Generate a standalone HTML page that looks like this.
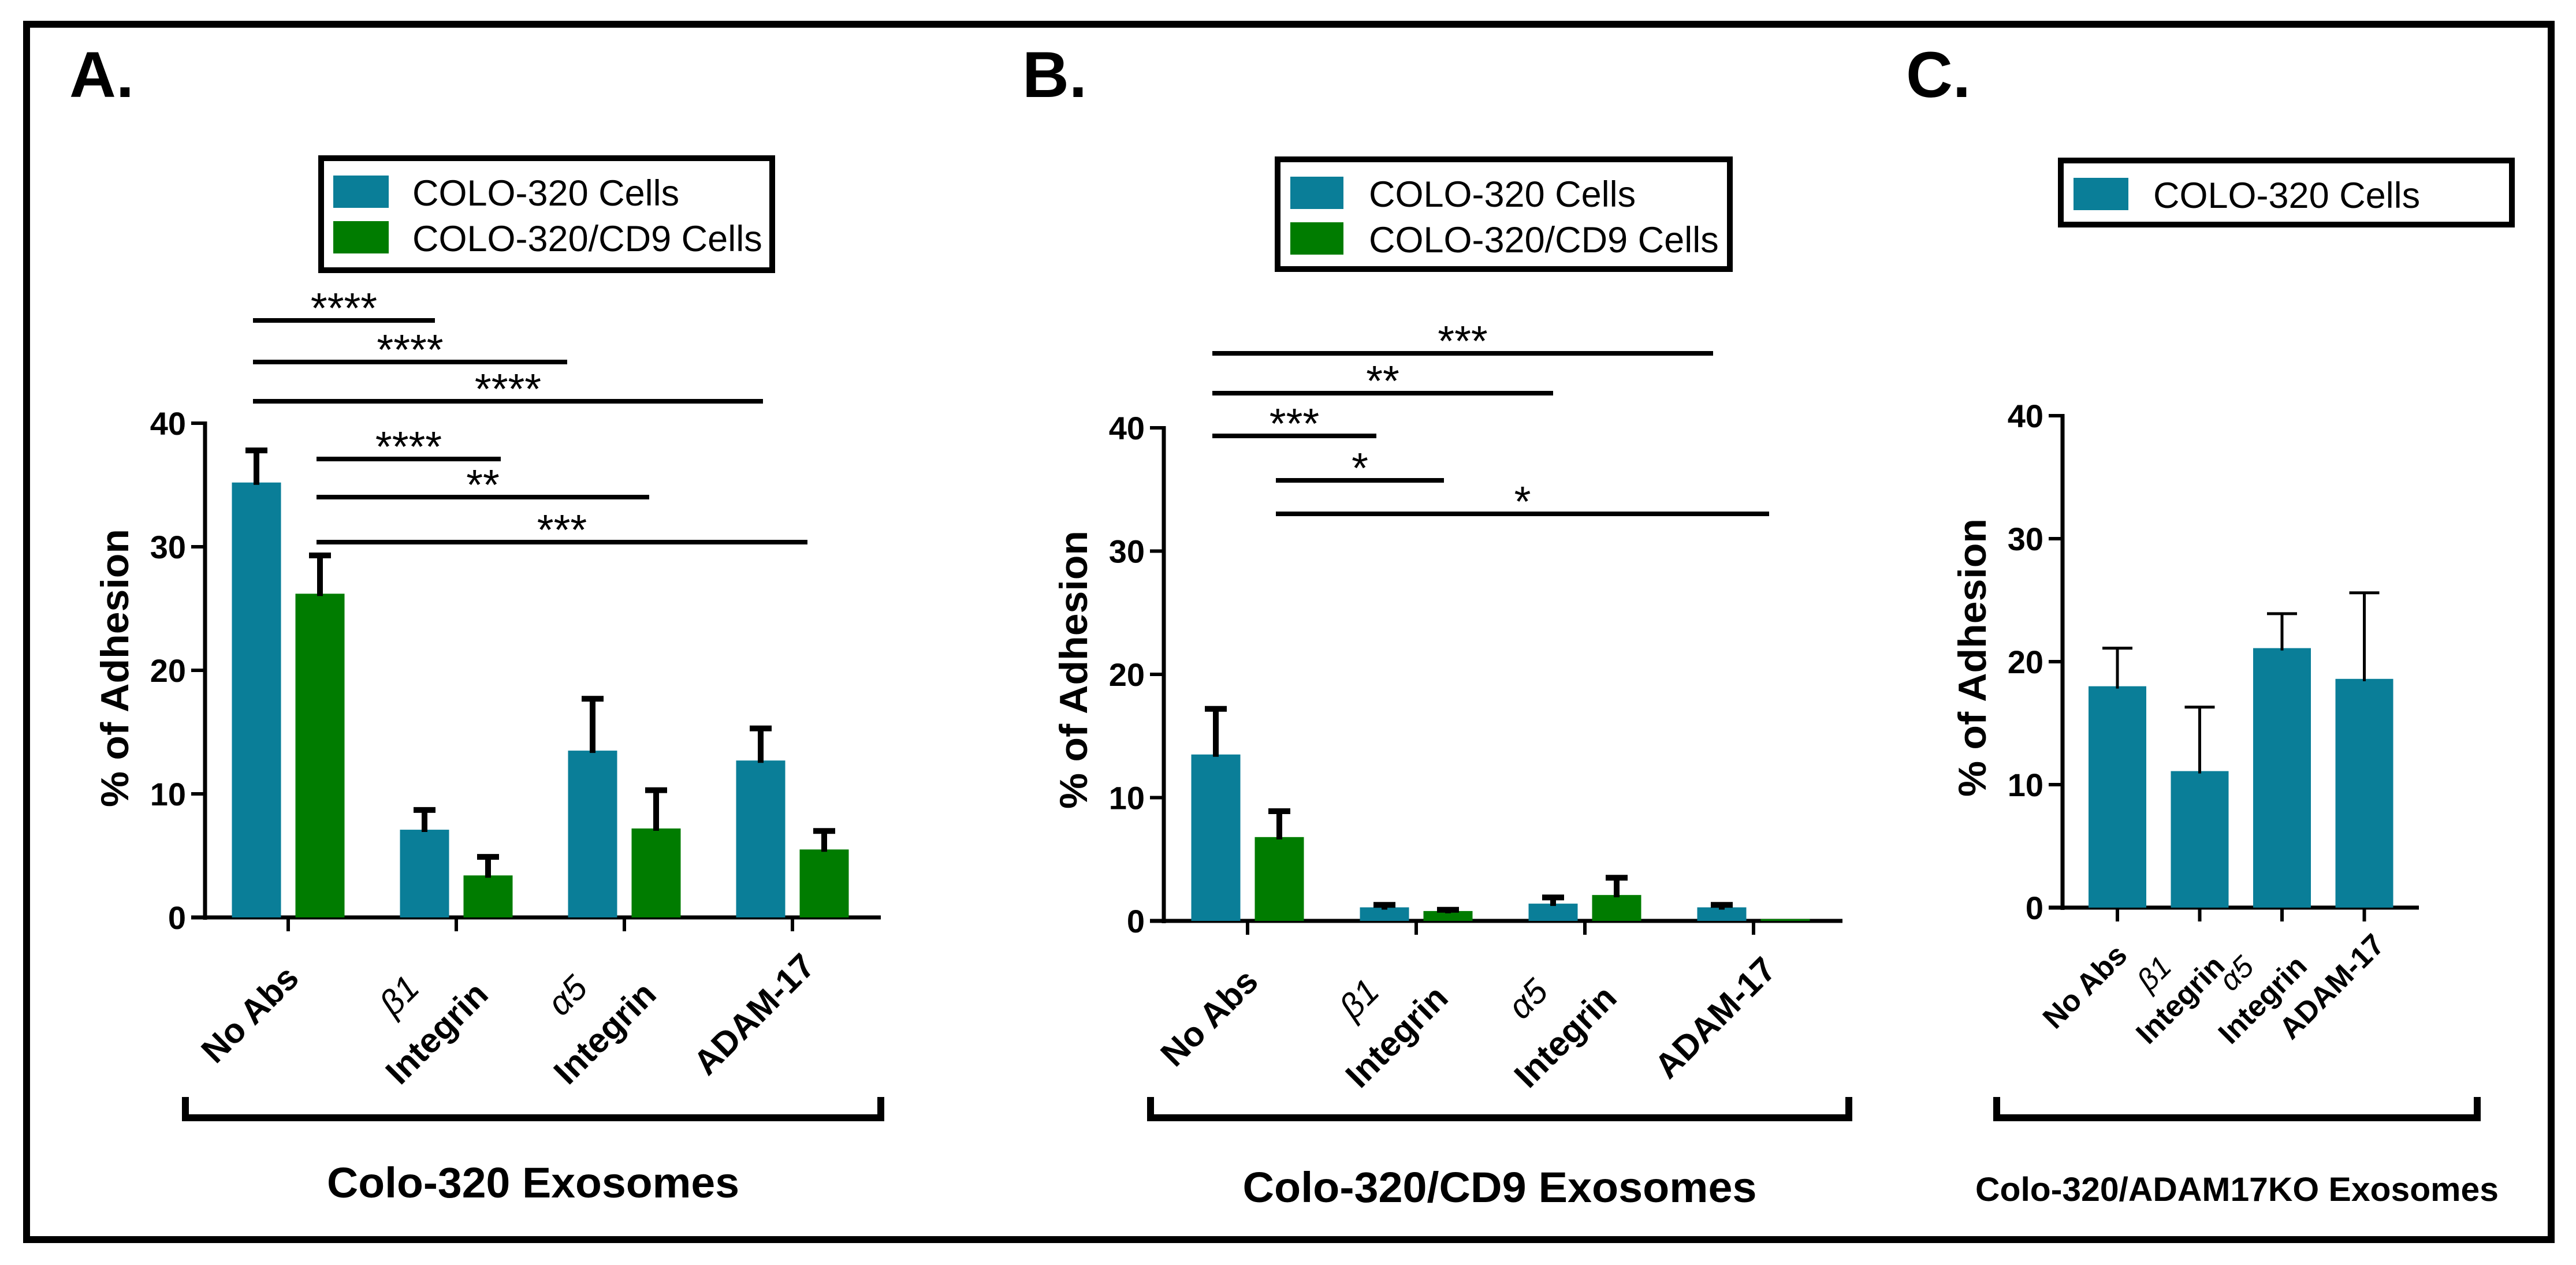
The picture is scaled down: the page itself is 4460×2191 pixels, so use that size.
<!DOCTYPE html>
<html><head><meta charset="utf-8"><style>
html,body{margin:0;padding:0;background:#fff;}
svg{display:block;}
text{font-family:"Liberation Sans",sans-serif;}
</style></head><body>
<svg id="fig" width="4460" height="2191" viewBox="0 0 4460 2191" xmlns="http://www.w3.org/2000/svg">
<rect x="0" y="0" width="4460" height="2191" fill="#fff"/>
<rect x="46" y="42" width="4371" height="2105" fill="none" stroke="#000" stroke-width="12"/>
<text x="120" y="168" font-size="112" font-weight="bold">A.</text>
<text x="1770" y="168" font-size="112" font-weight="bold">B.</text>
<text x="3300" y="168" font-size="112" font-weight="bold">C.</text>
<g id="root"></g>
</svg>
<script>
const NS="http://www.w3.org/2000/svg";
const TEAL="#0a7e98", GREEN="#007c00";
// ---- data ----
const catsAB=["No Abs","β1|Integrin","α5|Integrin","ADAM-17"];
const catsC=["No Abs","β1|Integrin","α5|Integrin","ADAM-17"];
const yTicks=[0,10,20,30,40];
const aTeal=[35.2,7.1,13.5,12.7];
const aTealErr=[2.6,1.6,4.2,2.6];
const aGreen=[26.2,3.4,7.2,5.5];
const aGreenErr=[3.1,1.5,3.1,1.5];
const bTeal=[13.5,1.1,1.4,1.1];
const bTealErr=[3.7,0.2,0.5,0.2];
const bGreen=[6.8,0.8,2.1,0.15];
const bGreenErr=[2.1,0.1,1.4,0];
const cTeal=[18.0,11.1,21.1,18.6];
const cTealErr=[3.1,5.2,2.8,7.0];
const aSigLabels=["****","****","****","****","**","***"];
const aSigFrom=[0,0,0,1,1,1];
const aSigTo=[2,4,6,2,4,6];
const bSigLabels=["***","**","***","*","*"];
const bSigFrom=[0,0,0,1,1];
const bSigTo=[6,4,2,3,7];

const root=document.getElementById('root');
function el(tag,attrs,parent){const e=document.createElementNS(NS,tag);for(const k in attrs)e.setAttribute(k,attrs[k]);(parent||root).appendChild(e);return e;}

function panel(cfg){
  const g=el('g',{});
  
  
  const y=v=>cfg.y0-(v/40)*(cfg.y0-cfg.y40);
  const tickX=i=>cfg.t0+i*cfg.step;
  const ax=el('line',{x1:cfg.ax,y1:y(40)-3,x2:cfg.ax,y2:cfg.y0+4,stroke:'#000','stroke-width':7},g);
  
  
  yTicks.forEach(t=>{
    el('line',{x1:cfg.ax-24,y1:y(t),x2:cfg.ax,y2:y(t),stroke:'#000','stroke-width':6},g);
    const tl=el('text',{x:cfg.ax-33,y:y(t)+20,'font-size':56,'font-weight':'bold','text-anchor':'end'},g);
    tl.textContent=t;
    
    
  });
  const xa=el('line',{x1:cfg.ax-24,y1:cfg.y0,x2:cfg.xEnd,y2:cfg.y0,stroke:'#000','stroke-width':7},g);
  
  
  cfg.series.forEach((s,si)=>{
    s.vals.forEach((v,i)=>{
      const n=cfg.series.length;
      const cx=tickX(i)+(n===2?(si===0?-55:55):0);
      const top=y(v);
      const r=el('rect',{x:cx-cfg.bw/2,y:top,width:cfg.bw,height:cfg.y0-top,fill:s.color},g);
      
      
      if(s.err[i]>0){
        const et=y(v+s.err[i]);
        const e=el('path',{d:`M${cx} ${top+4}V${et}M${cx-cfg.cap/2} ${et}H${cx+cfg.cap/2}`,stroke:'#000','stroke-width':cfg.ew,fill:'none'},g);
        
        
      }
    });
  });
  cfg.cats.forEach((c,i)=>{
    const tx=tickX(i);
    el('line',{x1:tx,y1:cfg.y0,x2:tx,y2:cfg.y0+24,stroke:'#000','stroke-width':6},g);
    const lines=c.split('|');
    const lg=el('g',{transform:`translate(${tx+cfg.lblDx},${cfg.y0+cfg.lblDy}) rotate(-45)`},g);
    
    
    lines.forEach((ln,li)=>{
      const off=lines.length===1?0:(li===0?-cfg.lgap/2:cfg.lgap/2);
      const t=el('text',{x:0,y:off+20,'font-size':cfg.lfs,'font-weight':ln.match(/^[βα]/)?'normal':'bold','text-anchor':'middle'},lg);
      if(/^[βα]/.test(ln)){t.setAttribute('font-family','"Liberation Serif",serif');t.setAttribute('font-style','italic');}
      t.textContent=ln;
    });
  });
  const yt=el('text',{transform:`translate(${cfg.ytx},${cfg.yty}) rotate(-90)`,'font-size':68,'font-weight':'bold','text-anchor':'middle',textLength:482,lengthAdjust:'spacingAndGlyphs'},g);
  yt.textContent="% of Adhesion";
  
  
  const br=el('path',{d:`M${cfg.bx1} 1900V1936H${cfg.bx2}V1900`,stroke:'#000','stroke-width':12,fill:'none'},g);
  
  
  const tt=el('text',{x:(cfg.bx1+cfg.bx2)/2,y:cfg.tY,'font-size':cfg.tfs,'font-weight':'bold','text-anchor':'middle',textLength:cfg.tLen,lengthAdjust:'spacingAndGlyphs'},g);
  tt.textContent=cfg.title;
  
  
  const L=cfg.legend;
  const lb=el('rect',{x:L.x,y:L.y,width:L.w,height:L.h,fill:'#fff',stroke:'#000','stroke-width':10},g);
  
  
  L.items.forEach((it,k)=>{
    el('rect',{x:L.sx,y:L.y+30+k*79,width:L.sw,height:56,fill:it.color},g);
    const t=el('text',{x:L.tx,y:L.y+82+k*79,'font-size':63},g);
    t.textContent=it.label;
    
    
  });
  if(cfg.sig){
    const barX=b=>tickX(Math.floor(b/2))+(b%2===0?-55:55);
    cfg.sig.labels.forEach((lab,k)=>{
      const x1=barX(cfg.sig.from[k])-6, x2=cfg.sig.ends[k];
      const yy=cfg.sig.ys[k];
      const l=el('line',{x1:x1,y1:yy,x2:x2,y2:yy,stroke:'#000','stroke-width':8},g);
      
      
      const st=el('text',{x:(x1+x2)/2,y:yy+4,'font-size':74,'text-anchor':'middle'},g);
      st.textContent=lab;
      
      
    });
  }
}
panel({name:'panel-a',ax:355,y0:1589,y40:733,t0:499,step:291,xEnd:1525,bw:85,cap:38,ew:10,
  cats:catsAB,lblDx:-66,lblDy:168,lgap:92,lfs:60,ytx:222,yty:1157,
  series:[{key:'teal',vals:aTeal,err:aTealErr,color:TEAL},{key:'green',vals:aGreen,err:aGreenErr,color:GREEN}],
  bx1:321,bx2:1525,title:'Colo-320 Exosomes',tY:2074,tfs:74,tLen:714,
  legend:{x:556,y:274,w:781,h:194,sx:577,sw:96,tx:714,items:[{color:TEAL,label:'COLO-320 Cells'},{color:GREEN,label:'COLO-320/CD9 Cells'}]},
  sig:{labels:aSigLabels,from:aSigFrom,ends:[753,982,1321,867,1124,1398],ys:[555,627,695,795,861,939]}
});
panel({name:'panel-b',ax:2015,y0:1595,y40:741,t0:2160,step:292,xEnd:3190,bw:85,cap:38,ew:10,
  cats:catsAB,lblDx:-66,lblDy:168,lgap:92,lfs:60,ytx:1882,yty:1160,
  series:[{key:'teal',vals:bTeal,err:bTealErr,color:TEAL},{key:'green',vals:bGreen,err:bGreenErr,color:GREEN}],
  bx1:1992,bx2:3201,title:'Colo-320/CD9 Exosomes',tY:2082,tfs:74,tLen:890,
  legend:{x:2212,y:276,w:783,h:190,sx:2234,sw:92,tx:2370,items:[{color:TEAL,label:'COLO-320 Cells'},{color:GREEN,label:'COLO-320/CD9 Cells'}]},
  sig:{labels:bSigLabels,from:bSigFrom,ends:[2966,2689,2383,2500,3063],ys:[612,681,755,832,890]}
});
panel({name:'panel-c',ax:3571,y0:1572,y40:720,t0:3666,step:142.5,xEnd:4188,bw:100,cap:52,ew:5,
  cats:catsC,lblDx:-58,lblDy:135,lgap:64,lfs:52,ytx:3438,yty:1139,
  series:[{key:'teal',vals:cTeal,err:cTealErr,color:TEAL}],
  bx1:3457,bx2:4289,title:'Colo-320/ADAM17KO Exosomes',tY:2080,tfs:58,tLen:906,
  legend:{x:3568,y:278,w:781,h:111,sx:3590,sw:95,tx:3728,items:[{color:TEAL,label:'COLO-320 Cells'}]}
});
</script>
</body></html>
